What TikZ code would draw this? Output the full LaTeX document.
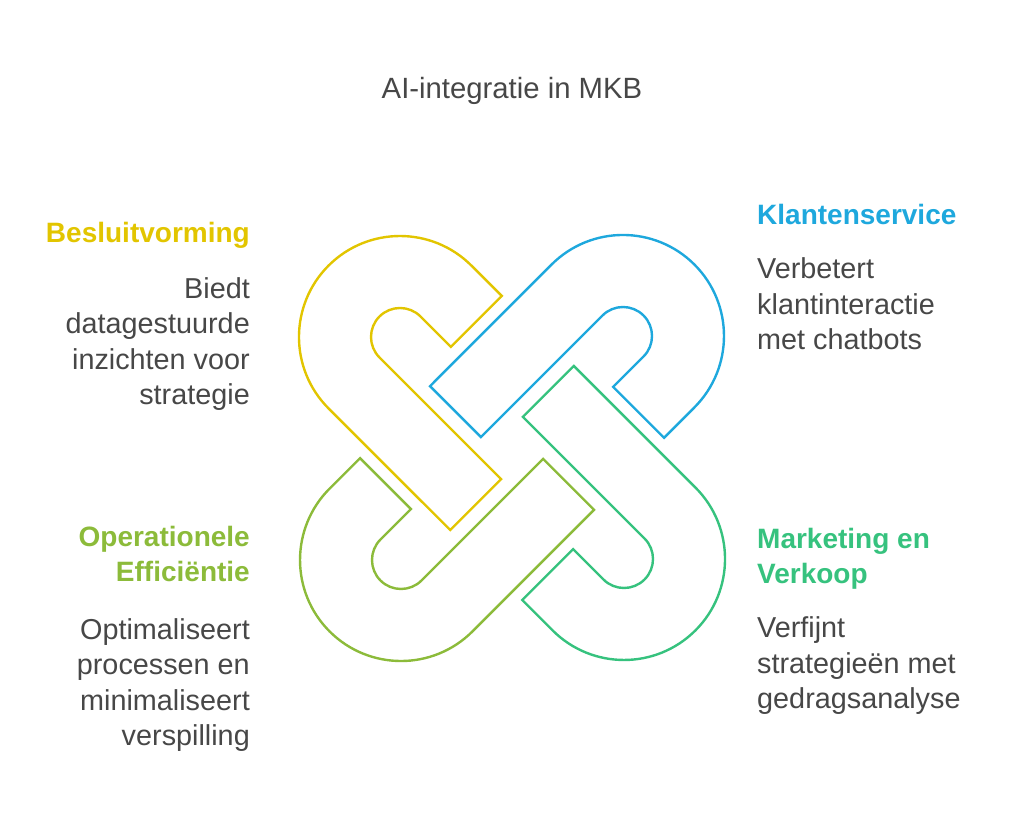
\documentclass[tikz,border=0pt]{standalone}
\usepackage{fontspec}
\setmainfont{Liberation Sans}
\usetikzlibrary{positioning}
\definecolor{besluitcol}{HTML}{E2C500}
\definecolor{klantcol}{HTML}{1EA8DD}
\definecolor{marktcol}{HTML}{36C27E}
\definecolor{operacol}{HTML}{8CBB3A}
\definecolor{textgray}{HTML}{474747}
\tikzset{
  hookline/.style={line width=2.4pt, line join=miter},
  headtext/.style={font=\fontsize{28}{35.5}\selectfont\bfseries, inner sep=0pt},
  bodytext/.style={font=\fontsize{28.8}{35.5}\selectfont, text=textgray, inner sep=0pt}
}
\begin{document}
\begin{tikzpicture}[x=1pt,y=1pt]
      \useasboundingbox (0,0) rectangle (1024,826); % page size
      \coordinate (knot) at (512,378); % centre of the four hooks
      \node[bodytext,font=\fontsize{29.3}{35.5}\selectfont,anchor=base] (title) at (512,727) {AI-integratie in MKB}; % title
      % four hooks, each turned a quarter round the centre
      \foreach \ang/\col in {0/besluitcol,-90/klantcol,-180/marktcol,90/operacol}{
        \begin{scope}[rotate around={\ang:(knot)},shift={(400,489)}]
          \draw[hookline,\col] (101.8,41.0) -- (71.4,71.4)
            arc[start angle=45,end angle=225,radius=101] -- (50.2,-193.0)
            -- (101.1,-142.1) -- (-20.5,-20.5)
            arc[start angle=225,end angle=45,radius=29] -- (50.9,-9.9) -- cycle;
        \end{scope}
      }
      % base of a text block is its last line
      \node[headtext,text=besluitcol,anchor=base east] (besluit) at (250,583) {Besluitvorming}; % top left
      \node[bodytext,align=right,anchor=base east] (besluittxt) at (250,421) {Biedt\\datagestuurde\\inzichten voor\\strategie};
      \node[headtext,text=klantcol,anchor=base west] (klant) at (757,601) {Klantenservice}; % top right
      \node[bodytext,align=left,anchor=base west] (klanttxt) at (757,476) {Verbetert\\klantinteractie\\met chatbots};
      \node[headtext,text=operacol,align=right,anchor=base east] (opera) at (250,244) {Operationele\\Efficiëntie}; % bottom left
      \node[bodytext,align=right,anchor=base east] (operatxt) at (250,80) {Optimaliseert\\processen en\\minimaliseert\\verspilling};
      \node[headtext,text=marktcol,align=left,anchor=base west] (markt) at (757,242) {Marketing en\\Verkoop}; % bottom right
      \node[bodytext,align=left,anchor=base west] (markttxt) at (757,117) {Verfijnt\\strategieën met\\gedragsanalyse};
\end{tikzpicture}
\end{document}
